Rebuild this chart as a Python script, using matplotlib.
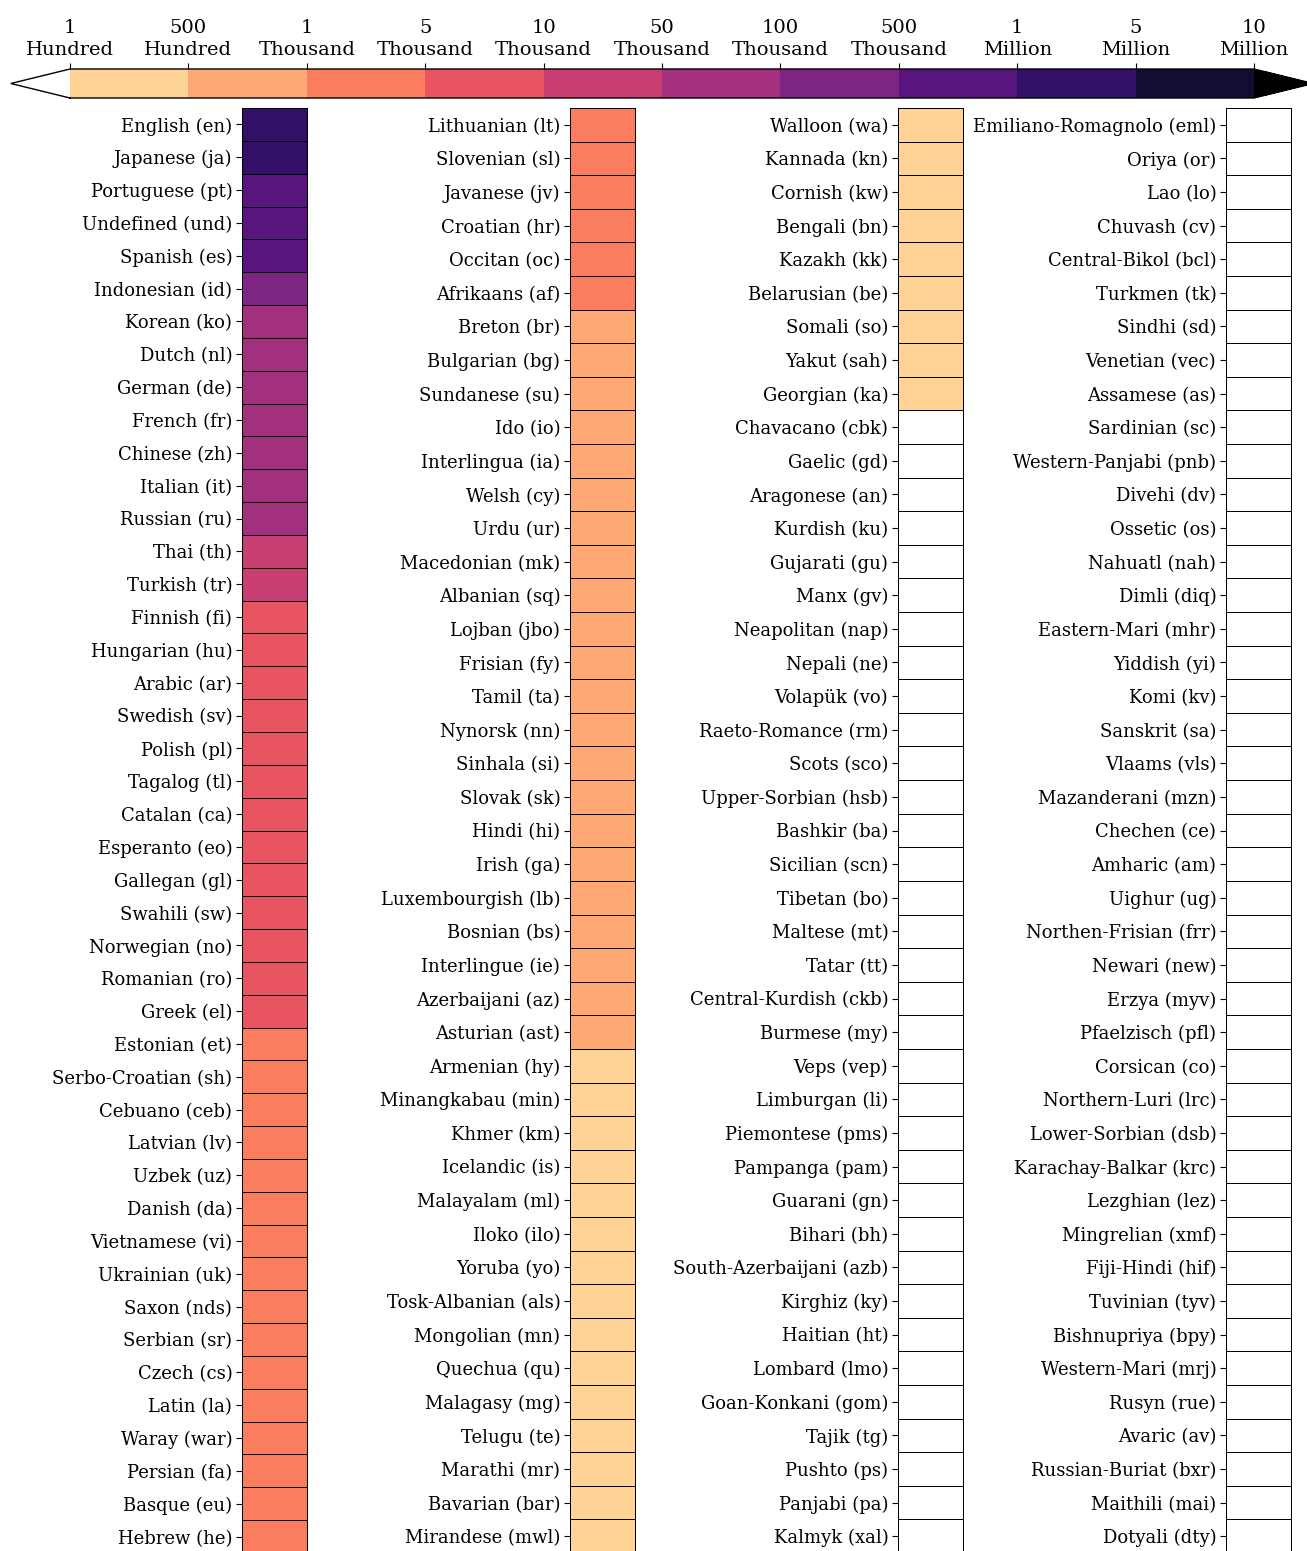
"""
Tweet counts per language, binned on a log-like scale and shown as four
single-column heatmaps under one shared colour bar.
"""

import numpy as np
import matplotlib
matplotlib.use("Agg")
import matplotlib.pyplot as plt
from matplotlib.colors import ListedColormap, BoundaryNorm
from matplotlib.cm import ScalarMappable

plt.rcParams["font.family"] = "DejaVu Serif"

# ── Data ───────────────────────────────────────────────────────
BOUNDS = [100, 500, 1_000, 5_000, 10_000, 50_000, 100_000,
          500_000, 1_000_000, 5_000_000, 10_000_000]
BOUND_LABELS = ["1\nHundred", "500\nHundred", "1\nThousand", "5\nThousand",
                "10\nThousand", "50\nThousand", "100\nThousand",
                "500\nThousand", "1\nMillion", "5\nMillion", "10\nMillion"]

LANGUAGES = [
    "English (en)", "Japanese (ja)", "Portuguese (pt)", "Undefined (und)",
    "Spanish (es)", "Indonesian (id)", "Korean (ko)", "Dutch (nl)",
    "German (de)", "French (fr)", "Chinese (zh)", "Italian (it)",
    "Russian (ru)", "Thai (th)", "Turkish (tr)", "Finnish (fi)",
    "Hungarian (hu)", "Arabic (ar)", "Swedish (sv)", "Polish (pl)",
    "Tagalog (tl)", "Catalan (ca)", "Esperanto (eo)", "Gallegan (gl)",
    "Swahili (sw)", "Norwegian (no)", "Romanian (ro)", "Greek (el)",
    "Estonian (et)", "Serbo-Croatian (sh)", "Cebuano (ceb)", "Latvian (lv)",
    "Uzbek (uz)", "Danish (da)", "Vietnamese (vi)", "Ukrainian (uk)",
    "Saxon (nds)", "Serbian (sr)", "Czech (cs)", "Latin (la)",
    "Waray (war)", "Persian (fa)", "Basque (eu)", "Hebrew (he)",
    "Lithuanian (lt)", "Slovenian (sl)", "Javanese (jv)", "Croatian (hr)",
    "Occitan (oc)", "Afrikaans (af)", "Breton (br)", "Bulgarian (bg)",
    "Sundanese (su)", "Ido (io)", "Interlingua (ia)", "Welsh (cy)",
    "Urdu (ur)", "Macedonian (mk)", "Albanian (sq)", "Lojban (jbo)",
    "Frisian (fy)", "Tamil (ta)", "Nynorsk (nn)", "Sinhala (si)",
    "Slovak (sk)", "Hindi (hi)", "Irish (ga)", "Luxembourgish (lb)",
    "Bosnian (bs)", "Interlingue (ie)", "Azerbaijani (az)", "Asturian (ast)",
    "Armenian (hy)", "Minangkabau (min)", "Khmer (km)", "Icelandic (is)",
    "Malayalam (ml)", "Iloko (ilo)", "Yoruba (yo)", "Tosk-Albanian (als)",
    "Mongolian (mn)", "Quechua (qu)", "Malagasy (mg)", "Telugu (te)",
    "Marathi (mr)", "Bavarian (bar)", "Mirandese (mwl)",
    "Walloon (wa)", "Kannada (kn)", "Cornish (kw)", "Bengali (bn)",
    "Kazakh (kk)", "Belarusian (be)", "Somali (so)", "Yakut (sah)",
    "Georgian (ka)", "Chavacano (cbk)", "Gaelic (gd)", "Aragonese (an)",
    "Kurdish (ku)", "Gujarati (gu)", "Manx (gv)", "Neapolitan (nap)",
    "Nepali (ne)", "Volapük (vo)", "Raeto-Romance (rm)", "Scots (sco)",
    "Upper-Sorbian (hsb)", "Bashkir (ba)", "Sicilian (scn)", "Tibetan (bo)",
    "Maltese (mt)", "Tatar (tt)", "Central-Kurdish (ckb)", "Burmese (my)",
    "Veps (vep)", "Limburgan (li)", "Piemontese (pms)", "Pampanga (pam)",
    "Guarani (gn)", "Bihari (bh)", "South-Azerbaijani (azb)", "Kirghiz (ky)",
    "Haitian (ht)", "Lombard (lmo)", "Goan-Konkani (gom)", "Tajik (tg)",
    "Pushto (ps)", "Panjabi (pa)", "Kalmyk (xal)",
    "Emiliano-Romagnolo (eml)", "Oriya (or)", "Lao (lo)", "Chuvash (cv)",
    "Central-Bikol (bcl)", "Turkmen (tk)", "Sindhi (sd)", "Venetian (vec)",
    "Assamese (as)", "Sardinian (sc)", "Western-Panjabi (pnb)", "Divehi (dv)",
    "Ossetic (os)", "Nahuatl (nah)", "Dimli (diq)", "Eastern-Mari (mhr)",
    "Yiddish (yi)", "Komi (kv)", "Sanskrit (sa)", "Vlaams (vls)",
    "Mazanderani (mzn)", "Chechen (ce)", "Amharic (am)", "Uighur (ug)",
    "Northen-Frisian (frr)", "Newari (new)", "Erzya (myv)", "Pfaelzisch (pfl)",
    "Corsican (co)", "Northern-Luri (lrc)", "Lower-Sorbian (dsb)",
    "Karachay-Balkar (krc)", "Lezghian (lez)", "Mingrelian (xmf)",
    "Fiji-Hindi (hif)", "Tuvinian (tyv)", "Bishnupriya (bpy)",
    "Western-Mari (mrj)", "Rusyn (rue)", "Avaric (av)",
    "Russian-Buriat (bxr)", "Maithili (mai)", "Dotyali (dty)",
]

# approximate tweet counts (only the bin can be read from the chart)
COUNTS = [
    3_400_000, 2_300_000, 900_000, 750_000, 620_000, 210_000, 98_000, 92_000,
    88_000, 84_000, 79_000, 71_000, 56_000, 38_000, 21_000, 9_800,
    9_500, 9_100, 8_700, 8_300, 7_900, 7_400, 7_000, 6_600,
    6_200, 5_900, 5_500, 5_200, 4_800, 4_500, 4_200, 3_900,
    3_600, 3_300, 3_000, 2_800, 2_600, 2_400, 2_200, 2_000,
    1_800, 1_600, 1_400, 1_200,
    1_150, 1_120, 1_090, 1_060, 1_030, 1_005, 990, 960,
    930, 900, 880, 860, 840, 820, 800, 780,
    760, 740, 720, 700, 680, 660, 640, 620,
    600, 580, 560, 530, 480, 460, 440, 420,
    400, 380, 360, 340, 320, 300, 280, 260,
    240, 220, 200,
    185, 170, 155, 140, 130, 120, 112, 106,
    101, 98, 95, 92, 89, 86, 83, 80,
    77, 74, 71, 68, 65, 62, 60, 58,
    56, 54, 52, 50, 48, 46, 44, 42,
    40, 38, 36, 34, 32, 30, 29, 28,
    27, 26, 25,
    24, 23, 22, 21, 20, 19, 18, 17,
    16, 15, 14, 13, 12, 12, 11, 11,
    10, 10, 9, 9, 8, 8, 7, 7,
    6, 6, 6, 5, 5, 5, 4, 4,
    4, 3, 3, 3, 3, 2, 2, 2,
    1, 1, 1,
]

N_COLUMNS = 4

# ── Colour scale ───────────────────────────────────────────────
colors = plt.get_cmap("magma")(np.linspace(0, 1, 12)[1:-1])[::-1]
cmap = ListedColormap(colors)
cmap.set_under("white")
cmap.set_over("black")
norm = BoundaryNorm(BOUNDS, cmap.N)

# ── Figure ─────────────────────────────────────────────────────
W, H = 1307, 1551
fig = plt.figure(figsize=(W / 100, H / 100), dpi=100)

# colour bar: main part 70..1254 px, triangles (5 % each) drawn inside cax
bar_len = 1184
ext = 0.05 * bar_len
cax = fig.add_axes([(70 - ext) / W, 1 - 98 / H,
                    (bar_len + 2 * ext) / W, 29 / H])
cbar = fig.colorbar(ScalarMappable(norm=norm, cmap=cmap), cax=cax,
                    orientation="horizontal", extend="both", ticks=BOUNDS)
cbar.ax.xaxis.set_ticks_position("top")
cbar.ax.set_xticklabels(BOUND_LABELS, fontsize=14, linespacing=1.3)
cbar.ax.tick_params(length=4, width=0.8, pad=3)
cbar.outline.set_linewidth(1.0)

labels = np.array_split(np.array(LANGUAGES), N_COLUMNS)
values = np.array_split(np.array(COUNTS, dtype=float), N_COLUMNS)

top_px, bottom_px = 108, 1553
col_x = [242, 570, 898, 1226]
cell_w = 65

for x0, lab, val in zip(col_x, labels, values):
    ax = fig.add_axes([x0 / W, 1 - bottom_px / H, cell_w / W,
                       (bottom_px - top_px) / H])
    n = len(val)
    mesh = ax.pcolormesh(val.reshape(-1, 1), cmap=cmap, norm=norm,
                         edgecolors="black", linewidth=0.6)
    mesh.set_clip_on(False)
    ax.set_ylim(n, 0)
    ax.set_xlim(0, 1)
    ax.set_xticks([])
    ax.set_yticks(np.arange(n) + 0.5)
    ax.set_yticklabels(lab, fontsize=13)
    ax.tick_params(axis="y", length=4, width=0.8, pad=3)
    for s in ax.spines.values():
        s.set_visible(False)

fig.savefig("out.png", dpi=100)
plt.close(fig)
